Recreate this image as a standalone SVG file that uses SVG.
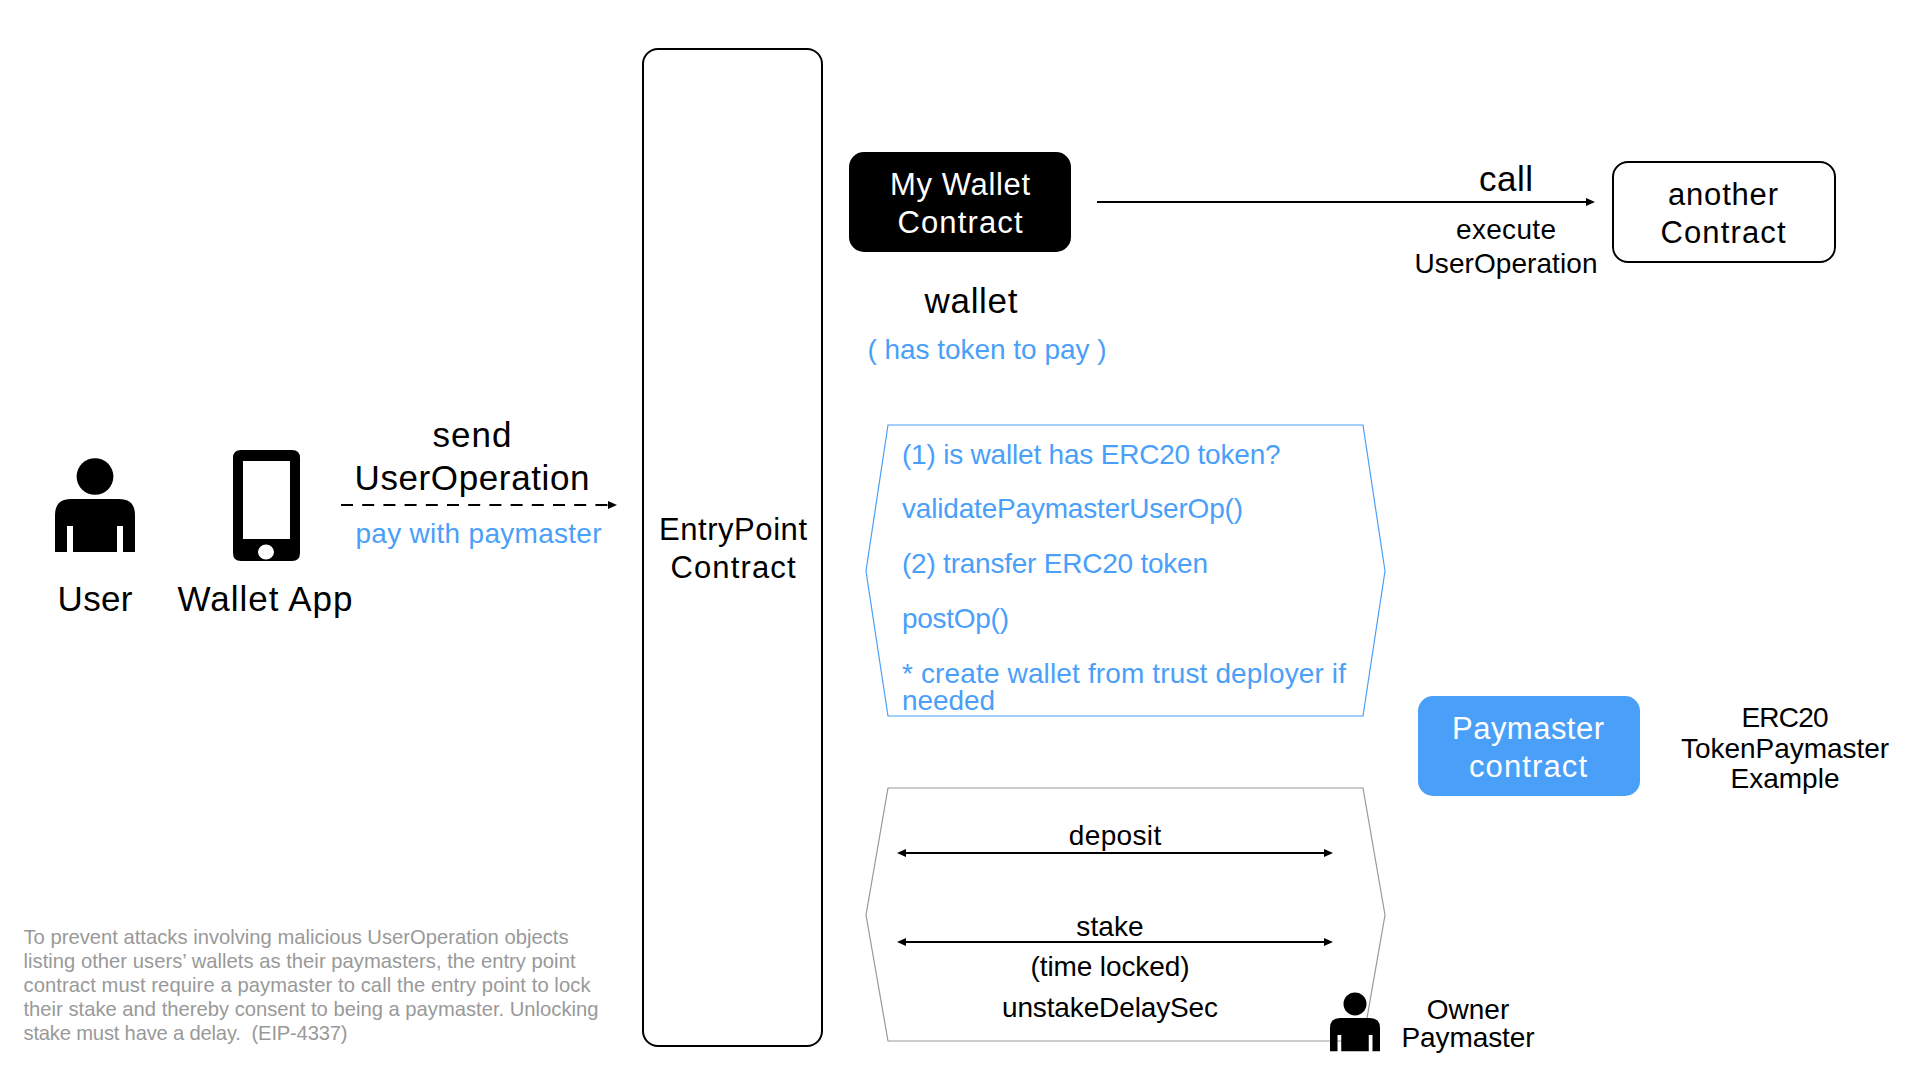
<svg xmlns="http://www.w3.org/2000/svg" width="1920" height="1080" viewBox="0 0 1920 1080">
<style>
text{font-family:"Liberation Sans",Arial,sans-serif;fill:#000;font-size:28px;text-anchor:middle;white-space:pre}
.l{text-anchor:start}
.b{fill:#4a9ff9}
.w{fill:#fff}
.f32{font-size:31px}
.f35{font-size:35px}
.note{font-size:20.2px;fill:#999;text-anchor:start}
.box{fill:#fff;stroke:#000;stroke-width:2}
.icon{fill:#000}
.conn{fill:none;stroke:#000;stroke-width:2}
</style>
<defs>
<marker id="ah" markerUnits="userSpaceOnUse" markerWidth="10" markerHeight="10" refX="1" refY="5" orient="auto-start-reverse"><path d="M0 1L9 5L0 9z" fill="#000"/></marker>
<g id="person"><ellipse cx="40" cy="-22.5" rx="18.4" ry="18.3"/><path d="M0 53V16Q0 0 16 0H64Q80 0 80 16V53H68V27H62V53H18V27H12V53z"/></g>
</defs>
<rect width="1920" height="1080" fill="#fff"/>

<g id="user" class="icon"><use href="#person" transform="translate(55 499)"/><text class="f35" x="95" y="611" textLength="75">User</text></g>
<g id="wallet-app">
<path class="icon" fill-rule="evenodd" d="M241 450H292Q300 450 300 458V553Q300 561 292 561H241Q233 561 233 553V458Q233 450 241 450zM243 461V539H290V461zM266 544.5A8 7.5 0 1 0 266 559.5A8 7.5 0 1 0 266 544.5z"/>
<text class="f35" x="265" y="611" textLength="175">Wallet App</text></g>

<g id="send-label"><text class="f35" x="472" y="447" textLength="79">send</text><text class="f35" x="472" y="490" textLength="235">UserOperation</text><text class="b" x="478.5" y="543" textLength="246">pay with paymaster</text></g>

<g id="entrypoint"><rect class="box" x="643" y="49" width="179" height="997" rx="15"/><text class="f32" x="733" y="540" textLength="148">EntryPoint</text><text class="f32" x="733" y="578" textLength="125">Contract</text></g>

<g id="my-wallet"><rect x="849" y="152" width="222" height="100" rx="15" fill="#000"/><text class="f32 w" x="960" y="195" textLength="140">My Wallet</text><text class="f32 w" x="960" y="233" textLength="125">Contract</text>
<text class="f35" x="971" y="313" textLength="93">wallet</text><text class="b" x="987" y="359" textLength="239">( has token to pay )</text></g>

<g id="call-label"><text class="f35" x="1506" y="191" textLength="54">call</text><text x="1506" y="239" textLength="100">execute</text><text x="1506" y="273" textLength="183">UserOperation</text></g>

<g id="another-contract"><rect class="box" x="1613" y="162" width="222" height="100" rx="15"/><text class="f32" x="1723" y="204.5" textLength="110">another</text><text class="f32" x="1723" y="243" textLength="125">Contract</text></g>

<g id="paymaster"><rect x="1418" y="696" width="222" height="100" rx="15" fill="#4a9ff9"/><text class="f32 w" x="1528" y="739" textLength="152">Paymaster</text><text class="f32 w" x="1528" y="777" textLength="118">contract</text></g>
<g id="paymaster-example"><text x="1785" y="727" textLength="87">ERC20</text><text x="1785" y="758" textLength="208">TokenPaymaster</text><text x="1785" y="788" textLength="109">Example</text></g>

<g id="validate-hex"><polygon points="888,425 1363,425 1385,571 1363,716 888,716 866,571" fill="none" stroke="#4a9ff9" stroke-width="1.2"/>
<text class="b l" x="902" y="464" textLength="378.6">(1) is wallet has ERC20 token?</text>
<text class="b l" x="902" y="518" textLength="341">validatePaymasterUserOp()</text>
<text class="b l" x="902" y="573" textLength="306">(2) transfer ERC20 token</text>
<text class="b l" x="902" y="628" textLength="107">postOp()</text>
<text class="b l" x="902" y="683" textLength="444">* create wallet from trust deployer if</text>
<text class="b l" x="902" y="710" textLength="93">needed</text></g>

<g id="stake-hex"><polygon points="888,788 1363,788 1385,915 1363,1041 888,1041 866,915" fill="none" stroke="#999" stroke-width="1.2"/>
<text x="1115" y="845" textLength="92.4">deposit</text><text x="1110" y="936" textLength="67.4">stake</text><text x="1110" y="976" textLength="159">(time locked)</text><text x="1110" y="1017" textLength="216">unstakeDelaySec</text></g>

<g id="owner" class="icon"><use href="#person" transform="translate(1330 1018) scale(.625)"/><text x="1468" y="1019" textLength="82.6">Owner</text><text x="1468" y="1047" textLength="133">Paymaster</text></g>

<g id="connectors">
<line class="conn" x1="341" y1="505" x2="609" y2="505" stroke-dasharray="12 9.2" marker-end="url(#ah)"/>
<line class="conn" x1="1097" y1="202" x2="1587" y2="202" marker-end="url(#ah)"/>
<line class="conn" x1="905" y1="853" x2="1325" y2="853" marker-start="url(#ah)" marker-end="url(#ah)"/>
<line class="conn" x1="905" y1="942" x2="1325" y2="942" marker-start="url(#ah)" marker-end="url(#ah)"/>
</g>
<g id="note"><text class="note" x="23.5" y="944" textLength="545">To prevent attacks involving malicious UserOperation objects</text>
<text class="note" x="23.5" y="968" textLength="552">listing other users’ wallets as their paymasters, the entry point</text>
<text class="note" x="23.5" y="992" textLength="567">contract must require a paymaster to call the entry point to lock</text>
<text class="note" x="23.5" y="1016" textLength="575">their stake and thereby consent to being a paymaster. Unlocking</text>
<text class="note" x="23.5" y="1040" textLength="324">stake must have a delay.  (EIP-4337)</text></g>
</svg>
